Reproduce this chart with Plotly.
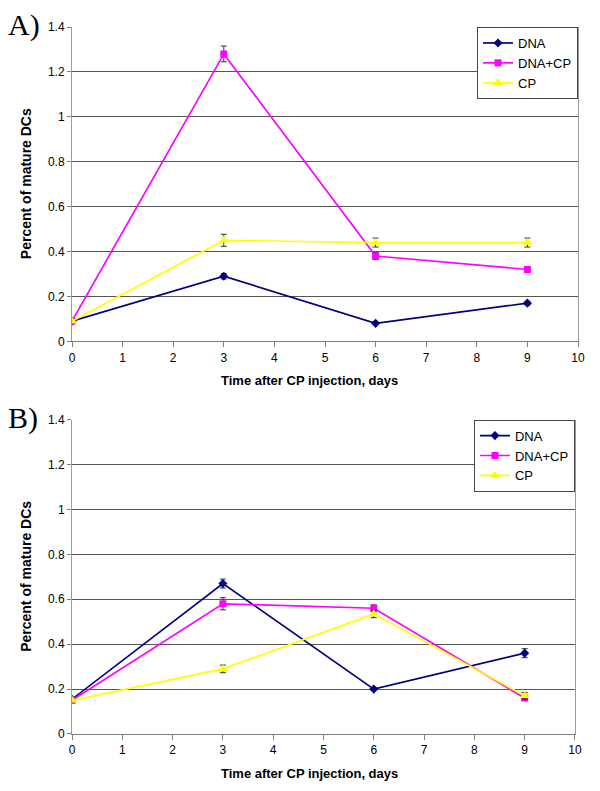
import plotly.graph_objects as go

days = [0, 3, 6, 9]
series_names = ["DNA", "DNA+CP", "CP"]

# Panel A
a_dna = [0.09, 0.29, 0.08, 0.17]
a_dna_err = [0.005, 0.012, 0.006, 0.008]
a_dnacp = [0.09, 1.28, 0.38, 0.32]
a_dnacp_err = [0.005, 0.035, 0.015, 0.012]
a_cp = [0.09, 0.45, 0.44, 0.44]
a_cp_err = [0.005, 0.027, 0.02, 0.02]

# Panel B
b_dna = [0.155, 0.67, 0.20, 0.36]
b_dna_err = [0.005, 0.02, 0.006, 0.02]
b_dnacp = [0.15, 0.58, 0.56, 0.16]
b_dnacp_err = [0.005, 0.027, 0.015, 0.01]
b_cp = [0.15, 0.29, 0.535, 0.17]
b_cp_err = [0.005, 0.017, 0.017, 0.015]

y_ticks = [0, 0.2, 0.4, 0.6, 0.8, 1.0, 1.2, 1.4]
y_tick_text = ["0", "0.2", "0.4", "0.6", "0.8", "1", "1.2", "1.4"]
x_ticks = list(range(0, 11))

x_title = "<b>Time after CP injection, days</b>"
y_title = "<b>Percent of mature DCs</b>"

colors = ["#000080", "#FF00FF", "#FFFF00"]
symbols = ["diamond", "square", "triangle-up"]
msizes = [7, 7, 9]

fig = go.Figure()

panels = [
    ("x", "y", "legend", [a_dna, a_dnacp, a_cp], [a_dna_err, a_dnacp_err, a_cp_err]),
    ("x2", "y2", "legend2", [b_dna, b_dnacp, b_cp], [b_dna_err, b_dnacp_err, b_cp_err]),
]
for xa, ya, lg, vals, errs in panels:
    for i, name in enumerate(series_names):
        fig.add_trace(go.Scatter(
            x=days, y=vals[i], name=name, mode="lines+markers",
            xaxis=xa, yaxis=ya, legend=lg,
            line=dict(color=colors[i], width=1.7),
            marker=dict(symbol=symbols[i], size=msizes[i], color=colors[i]),
            error_y=dict(type="data", array=errs[i], visible=True,
                         color="#333333", thickness=1, width=3),
        ))

sans = "Liberation Sans, Arial, sans-serif"
tickfont = dict(family=sans, size=12, color="#000000")

def xaxis_cfg(domain, anchor):
    return dict(domain=domain, anchor=anchor, range=[0, 10], tickvals=x_ticks,
                showgrid=False, zeroline=False, showline=True, linecolor="#808080",
                linewidth=1, ticks="outside", ticklen=5, tickcolor="#808080",
                tickfont=tickfont)

def yaxis_cfg(domain, anchor):
    return dict(domain=domain, anchor=anchor, range=[0, 1.4], tickvals=y_ticks,
                ticktext=y_tick_text, showgrid=True, gridcolor="#555555", gridwidth=1.2,
                zeroline=False, showline=True, linecolor="#9a9a9a", linewidth=1,
                mirror=True, ticks="outside", ticklen=4, tickcolor="#808080",
                tickfont=tickfont)

legend_common = dict(
    xanchor="right", yanchor="top", bgcolor="#FFFFFF", bordercolor="#444444",
    borderwidth=1, font=dict(family=sans, size=13, color="#000000"),
    tracegroupgap=0, itemwidth=30,
)

yA = [0.5554, 1.0]
yB = [0.0, 0.4446]

def ann(text, x, y, size, family=sans, angle=0, xanchor="center"):
    return dict(text=text, xref="paper", yref="paper", x=x, y=y, xanchor=xanchor,
                yanchor="middle", showarrow=False, textangle=angle,
                font=dict(family=family, size=size, color="#000000"))

serif = "Liberation Serif, Times New Roman, serif"

fig.update_layout(
    width=592, height=783,
    margin=dict(l=64, r=22, t=13, b=57),
    paper_bgcolor="#FFFFFF", plot_bgcolor="#FFFFFF",
    xaxis=xaxis_cfg([0, 1], "y"),
    yaxis=yaxis_cfg(yA, "x"),
    xaxis2=xaxis_cfg([0, 0.994], "y2"),
    yaxis2=yaxis_cfg(yB, "x2"),
    legend=dict(x=1.0, y=1.0, **legend_common),
    legend2=dict(x=0.994, y=yB[1], **legend_common),
    showlegend=True,
    annotations=[
        ann("A)", -0.13, 1.003, 30, serif, xanchor="left"),
        ann("B)", -0.13, 0.4465, 30, serif, xanchor="left"),
        ann(x_title, 0.47, 0.4993, 13),
        ann(x_title, 0.47, -0.0561, 13),
        ann(y_title, -0.0909, (yA[0] + yA[1]) / 2, 14, angle=-90),
        ann(y_title, -0.0909, (yB[0] + yB[1]) / 2, 14, angle=-90),
    ],
)

fig.write_html("out.html")
